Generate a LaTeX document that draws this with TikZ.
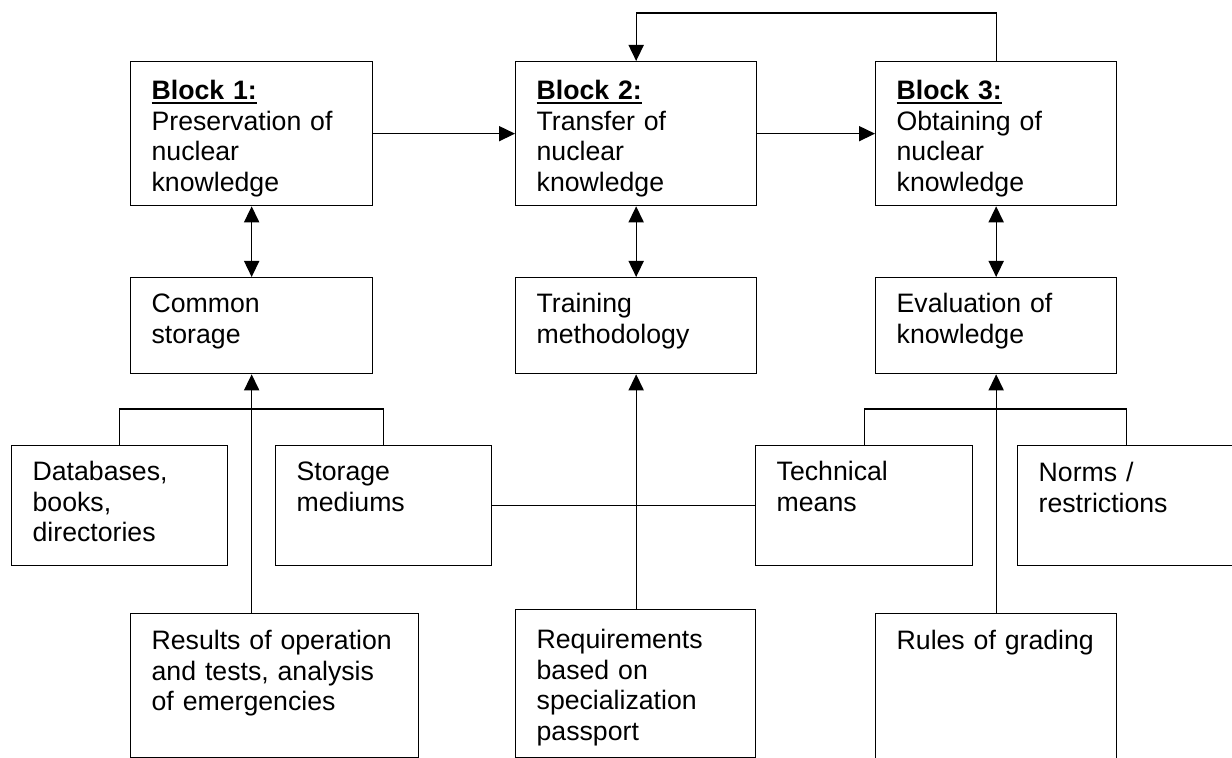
\documentclass[tikz,border=0pt]{standalone}
\usepackage{fontspec}
\setmainfont{Liberation Sans}
\usetikzlibrary{arrows.meta}
\newcommand{\pxs}{0.45pt}
\newcommand{\blockhead}[1]{\setbox0\hbox{\textbf{#1}}\rlap{\rule[-2pt]{\wd0}{1.1pt}}\box0}
\tikzset{
	box/.style n args={3}{draw, line width=0.6pt, anchor=north west, align=left,
		inner xsep=21*\pxs, inner ysep=0pt,
		text width=(#1-42)*\pxs, text height=#3*\pxs, text depth=(#2-#3)*\pxs,
		font=\fontsize{12pt}{13.8pt}\selectfont},
	conn/.style={line width=0.6pt},
	arr/.style={conn, -{Triangle[length=7.2pt,width=6.8pt]}},
	arrs/.style={conn, {Triangle[length=7.2pt,width=6.8pt]}-{Triangle[length=7.2pt,width=6.8pt]}},
}
\begin{document}
\begin{tikzpicture}[x=0.45pt,y=-0.45pt]
		\useasboundingbox (0,0) rectangle (1232,758);
		\clip (0,0) rectangle (1232,758);
		% blocks
		\node[box={242}{144}{38}] (b1) at (130,61) {\blockhead{Block 1:}\\Preservation of\\nuclear\\knowledge};
		\node[box={241}{144}{38}] (b2) at (515,61) {\blockhead{Block 2:}\\Transfer of\\nuclear\\knowledge};
		\node[box={241}{144}{38}] (b3) at (875,61) {\blockhead{Block 3:}\\Obtaining of\\nuclear\\knowledge};
		\node[box={242}{96}{35}] (cs) at (130,277) {Common\\storage};
		\node[box={241}{96}{35}] (tm) at (515,277) {Training\\methodology};
		\node[box={241}{96}{35}] (ek) at (875,277) {Evaluation of\\knowledge};
		% means
		\node[box={216}{120}{35}] (db) at (11,445) {Databases,\\books,\\directories};
		\node[box={216}{120}{35}] (sm) at (275,445) {Storage\\mediums};
		\node[box={217}{120}{35}] (tc) at (755,445) {Technical\\means};
		\node[box={218}{120}{36}] (nr) at (1017,445) {Norms /\\restrictions};
		% sources
		\node[box={288}{144}{36}] (rs) at (130,613) {Results of operation\\and tests, analysis\\of emergencies};
		\node[box={240}{148}{39}] (rq) at (515,609) {Requirements\\based on\\specialization\\passport};
		\node[box={241}{160}{36}] (rg) at (875,613) {Rules of grading};
		\draw[arr] (b1) -- (b2);
		\draw[arr] (b2) -- (b3);
		\draw[arr] (b3.north) -- ++(0,-48) -| (b2.north);
		\draw[arrs] (b1) -- (cs);
		\draw[arrs] (b2) -- (tm);
		\draw[arrs] (b3) -- (ek);
		\draw[conn] (db.north) -- ++(0,-36) -| (sm.north);
		\draw[conn] (tc.north) -- ++(0,-36) -| (nr.north);
		\draw[conn] (sm) -- (tc);
		\draw[arr] (rs.north -| cs.south) -- (cs.south);
		\draw[arr] (rq.north -| tm.south) -- (tm.south);
		\draw[arr] (rg.north -| ek.south) -- (ek.south);
	\end{tikzpicture}
\end{document}
